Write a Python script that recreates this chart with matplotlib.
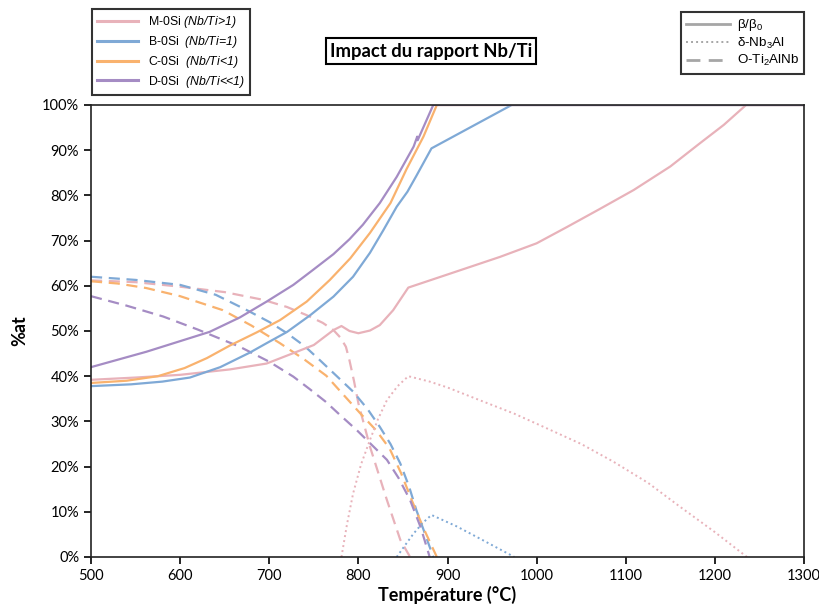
import matplotlib
matplotlib.use("Agg")
import matplotlib.pyplot as plt
from matplotlib.lines import Line2D
from matplotlib.ticker import PercentFormatter

plt.rcParams["font.family"] = ["Lato", "DejaVu Sans"]
plt.rcParams["mathtext.fontset"] = "custom"
plt.rcParams["mathtext.rm"] = "Liberation Sans:italic"
plt.rcParams["mathtext.it"] = "Liberation Sans:italic"
plt.rcParams["mathtext.sf"] = "Liberation Sans"
plt.rcParams["mathtext.bf"] = "Liberation Sans:bold"

# ---- data (temperature in °C, fraction in %at) ----
# beta / beta0 (solid)
t_beta_M = [500, 550, 600, 656, 697, 727, 750, 772, 781, 790, 800, 813, 824, 839, 856, 900, 959,
            1000, 1034, 1070, 1109, 1150, 1183, 1210, 1235, 1300]
y_beta_M = [39.2, 39.7, 40.3, 41.5, 42.8, 45.1, 46.9, 50.2, 51.1, 50.0, 49.5, 50.1, 51.3, 54.6,
            59.6, 62.5, 66.4, 69.4, 73.0, 76.9, 81.2, 86.4, 91.5, 95.6, 100, 100]
t_beta_B = [500, 545, 580, 611, 645, 678, 697, 720, 746, 772, 794, 813, 828, 843, 855, 865, 882,
            972, 1300]
y_beta_B = [37.8, 38.2, 38.8, 39.7, 42.0, 45.2, 47.3, 49.8, 53.5, 57.6, 62.0, 67.3, 72.3, 77.5,
            80.8, 84.3, 90.4, 100, 100]
t_beta_C = [500, 540, 575, 605, 630, 656, 686, 712, 742, 768, 791, 813, 836, 854, 873, 888, 1300]
y_beta_C = [38.5, 39.0, 40.0, 41.8, 44.0, 46.8, 49.7, 52.4, 56.5, 61.3, 66.1, 71.7, 78.3, 85.8,
            93.0, 100, 100]
t_beta_D = [500, 562, 633, 667, 697, 727, 749, 772, 790, 805, 824, 843, 862, 866, 866.5, 884, 1300]
y_beta_D = [42.0, 45.4, 49.8, 53.0, 56.5, 60.2, 63.5, 67.0, 70.3, 73.5, 78.3, 84.1, 90.8, 93.0,
            92.2, 100, 100]

# O-Ti2AlNb (dashed)
t_O_M = [500, 550, 600, 650, 693, 720, 742, 760, 772, 780, 786, 790, 795, 800, 813, 832, 847, 858]
y_O_M = [61.2, 60.8, 59.8, 58.6, 56.9, 55.3, 53.5, 51.8, 50.2, 48.5, 46.5, 43.5, 39.0, 34.0,
         24.4, 12.6, 3.8, 0]
t_O_B = [500, 550, 600, 640, 675, 700, 720, 740, 757, 779, 794, 810, 824, 836, 847, 857, 865, 875, 884]
y_O_B = [62.0, 61.3, 60.2, 58.0, 54.6, 52.0, 49.5, 46.6, 43.5, 39.4, 36.6, 32.8, 28.8, 25.0,
         20.7, 15.5, 10.4, 5.0, 0]
t_O_C = [500, 530, 562, 600, 648, 680, 712, 740, 764, 785, 802, 820, 835, 848, 860, 873, 888]
y_O_C = [61.0, 60.5, 59.5, 57.7, 54.6, 51.2, 47.3, 43.6, 40.1, 35.5, 31.8, 28.0, 24.0, 18.5,
         12.5, 6.4, 0]
t_O_D = [500, 540, 581, 620, 667, 700, 727, 745, 763, 780, 798, 815, 832, 845, 858, 870, 880]
y_O_D = [57.7, 55.6, 53.2, 50.3, 46.5, 43.2, 39.9, 37.2, 34.4, 31.3, 28.1, 24.8, 21.5, 17.5,
         12.6, 6.5, 0]

# delta-Nb3Al (dotted)
t_d_M = [781, 787, 794, 803, 813, 822, 832, 844, 856, 880, 900, 936, 975, 1011, 1050, 1086,
         1125, 1161, 1200, 1236]
y_d_M = [0, 7.0, 14.0, 20.5, 25.9, 30.5, 34.7, 37.8, 40.0, 38.8, 37.5, 34.7, 31.7, 28.5, 25.0,
         21.1, 16.4, 11.1, 5.5, 0]
t_d_B = [843, 852, 862, 872, 882, 910, 936, 955, 975]
y_d_B = [0, 2.5, 5.2, 7.5, 9.3, 6.8, 4.1, 2.1, 0]

names = ["M-0Si", "B-0Si", "C-0Si", "D-0Si"]
ratios = [r"$\mathrm{(Nb/Ti\!>\!1)}$", r"$\mathrm{(Nb/Ti\!=\!1)}$",
          r"$\mathrm{(Nb/Ti\!<\!1)}$", r"$\mathrm{(Nb/Ti\!<\!\!\!<\!1)}$"]
colors = ["#e8b2ba", "#7fa9d6", "#f9b26e", "#a58cc4"]

fig = plt.figure(figsize=(8.2, 6.1), dpi=100)
ax = fig.add_axes([0.111, 0.0869, 0.8695, 0.741])

lw = 1.6
beta = [(t_beta_M, y_beta_M), (t_beta_B, y_beta_B), (t_beta_C, y_beta_C), (t_beta_D, y_beta_D)]
ophase = [(t_O_M, y_O_M), (t_O_B, y_O_B), (t_O_C, y_O_C), (t_O_D, y_O_D)]
for (t, y), c in zip(ophase, colors):
    ax.plot(t, y, color=c, lw=lw, linestyle=(0, (5, 3)))
ax.plot(t_d_M, y_d_M, color=colors[0], lw=1.4, linestyle=(0, (1, 1.6)))
ax.plot(t_d_B, y_d_B, color=colors[1], lw=1.4, linestyle=(0, (1, 1.6)))
for (t, y), c in zip(beta, colors):
    ax.plot(t, y, color=c, lw=lw, solid_joinstyle="round")

ax.set_xlim(500, 1300)
ax.set_ylim(0, 100)
ax.set_xticks(range(500, 1301, 100))
ax.set_yticks(range(0, 101, 10))
ax.yaxis.set_major_formatter(PercentFormatter(decimals=0))
ax.tick_params(direction="out", length=5, width=1.2, labelsize=10.5, colors="black")
for s in ax.spines.values():
    s.set_linewidth(1.2)
    s.set_color("#222222")
ax.set_xlabel("Température (°C)", fontsize=13, fontweight="bold", labelpad=2)
ax.set_ylabel("%at", fontsize=13, fontweight="bold", labelpad=10)

# legends
h1 = [Line2D([], [], color=c, lw=2.2) for c in colors]
l1 = [n + "  " + r for n, r in zip(names, ratios)]
l1[0] = names[0] + " " + ratios[0]
leg1 = fig.legend(h1, l1, loc="upper left", bbox_to_anchor=(92 / 820, 1 - 9 / 610),
                  prop={"family": "Liberation Sans", "size": 8.8}, fancybox=False,
                  edgecolor="black", handlelength=3.3, labelspacing=0.3,
                  borderaxespad=0, borderpad=0.45, handletextpad=0.8)
leg1.get_frame().set_linewidth(1.5)

grey = "#a6a6a6"
h2 = [Line2D([], [], color=grey, lw=2.0),
      Line2D([], [], color=grey, lw=1.4, linestyle=(0, (1, 1.6))),
      Line2D([], [], color=grey, lw=2.0, linestyle=(0, (5, 3)))]
l2 = [r"β/β$_{\mathsf{0}}$", r"δ-Nb$_{\mathsf{3}}$Al", r"O-Ti$_{\mathsf{2}}$AlNb"]
leg2 = fig.legend(h2, l2, loc="upper right", bbox_to_anchor=(804 / 820, 1 - 12 / 610),
                  prop={"family": "Liberation Sans", "size": 9.6}, fancybox=False,
                  edgecolor="black", handlelength=3.3, labelspacing=0.18,
                  borderaxespad=0, borderpad=0.4, handletextpad=0.5)
leg2.get_frame().set_linewidth(1.5)

fig.text(431 / 820, 1 - 51 / 610, "Impact du rapport Nb/Ti", ha="center", va="center",
         fontsize=13.3, fontweight="bold",
         bbox=dict(boxstyle="square,pad=0.22", fc="white", ec="black", lw=1.5))

fig.savefig("out.png", dpi=100)
